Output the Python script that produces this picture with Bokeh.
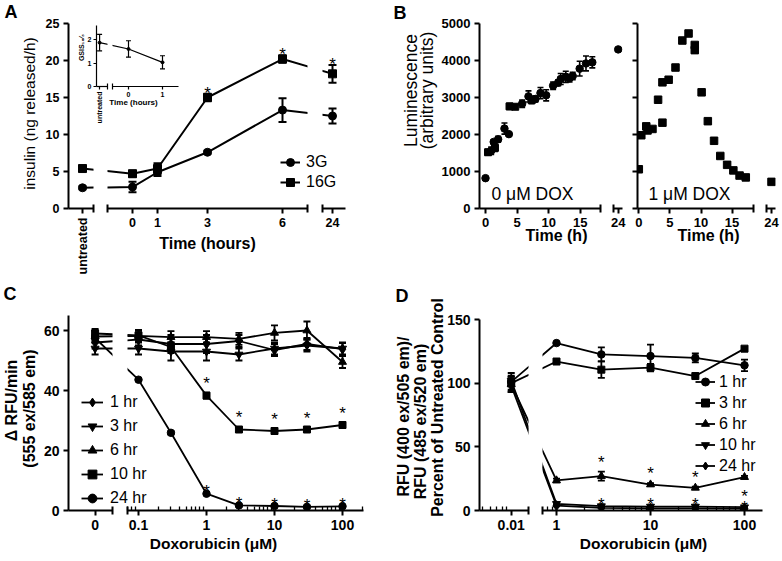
import math
from bokeh.plotting import figure
from bokeh.models import Range1d, FixedTicker, Label, Legend, LegendItem, GridBox
from bokeh.embed import file_html
from bokeh.resources import INLINE
from bokeh.core.properties import value

# ======================= DATA =======================
# Panel A: insulin release (ng released/h), mean +/- SEM
A_TIME = ["untreated", 0, 1, 3, 6, 24]
A_3G = [2.8, 2.9, 4.9, 7.6, 13.3, 12.5]
A_3G_ERR = [0.2, 0.7, 0.5, 0.2, 1.6, 1.0]
A_16G = [5.4, 4.7, 5.4, 15.0, 20.2, 18.2]
A_16G_ERR = [0.3, 0.4, 0.7, 0.5, 0.5, 1.2]
A_16G_SIG = [3, 6, 24]
A_YTICKS = [0, 5, 10, 15, 20, 25]

# Panel A inset: GSIS 16/3
AI_TIME = ["untreated", 0, 1]
AI_GSIS = [1.87, 1.60, 1.03]
AI_ERR = [0.35, 0.35, 0.28]
AI_YTICKS = [0, 1, 2]

# Panel B: luminescence (arbitrary units)
B0_CIRC_H = [0, 0.9, 1.3, 2.0, 3.0, 3.7, 5.8, 6.8, 7.9, 8.7, 9.6, 10.7, 11.5, 11.9,
             12.7, 13.3, 13.8, 14.9, 15.9, 16.9, 24]
B0_CIRC_LUM = [820, 1560, 1800, 1870, 2160, 2010, 2830, 3030, 2960, 3120, 3060, 3320, 3400,
               3500, 3560, 3520, 3580, 3780, 3920, 3950, 4300]
B0_CIRC_ERR = [0, 100, 60, 80, 150, 0, 100, 150, 80, 150, 150, 100, 80, 150,
               150, 100, 100, 200, 200, 150, 0]
B0_SQ_H = [0.4, 1.5, 3.8, 4.7, 7.3]
B0_SQ_LUM = [1520, 1640, 2760, 2750, 2930]
B0_SQ_ERR = [80, 100, 80, 60, 100]
B1_H = [0, 0.4, 1.2, 1.4, 2.2, 3.1, 3.8, 3.8, 4.8, 5.9, 7.0, 8.0, 9.0, 9.0, 10.1, 11.1,
        12.1, 13.1, 14.2, 15.2, 16.2, 17.2, 24]
B1_LUM = [1060, 1980, 2220, 2110, 2150, 2940, 2320, 3410, 3480, 3810, 4540, 4730, 4420,
          4280, 3140, 2360, 1830, 1420, 1180, 1030, 890, 840, 720]
B_XTICKS = [0, 5, 10, 15, 24]
B_YTICKS = [0, 1000, 2000, 3000, 4000, 5000]

# Panel C: delta RFU/min vs doxorubicin (uM)
C_CONC = [0, 0.1, 0.3, 1, 3, 10, 30, 100]
C_NAMES = ["1 hr", "3 hr", "6 hr", "10 hr", "24 hr"]
C_1HR = [56, 57, 55.5, 55.5, 56.5, 53.5, 55.5, 53.8]
C_1HR_ERR = [2, 2, 3, 3, 2, 2, 2, 2]
C_3HR = [54, 54, 53, 53, 52, 54, 55, 54]
C_3HR_ERR = [2, 2, 3, 3, 2, 2, 2, 2]
C_6HR = [58, 58.2, 57.8, 57.8, 57.2, 59.2, 60, 49.5]
C_6HR_ERR = [2, 2, 2, 2, 2, 2.5, 3, 2]
C_10HR = [59, 58.4, 54.5, 38.3, 27, 26.5, 27, 28.5]
C_10HR_ERR = [1.5, 1.5, 1.5, 1, 0.7, 0.6, 0.6, 0.7]
C_24HR = [57.5, 43.6, 25.9, 5.6, 1.7, 1.5, 1.2, 1.4]
C_24HR_ERR = [1, 0.5, 0.5, 0.4, 0.3, 0.3, 0.3, 0.3]
C_SIG_10HR = [1, 3, 10, 30, 100]
C_SIG_24HR = [1, 3, 10, 30, 100]
C_XTICKS = [0, 0.1, 1, 10, 100]
C_YTICKS = [0, 20, 40, 60]

# Panel D: RFU ratio, percent of untreated control
D_CONC = [0.01, 1, 3, 10, 30, 100]
D_NAMES = ["1 hr", "3 hr", "6 hr", "10 hr", "24 hr"]
D_1HR = [101, 131.5, 122.6, 121.3, 119.8, 114]
D_1HR_ERR = [7, 1, 5.5, 9, 3.5, 4.5]
D_3HR = [100, 117, 110.6, 112.2, 105.6, 127.1]
D_3HR_ERR = [5, 1, 6.5, 3, 1, 1]
D_6HR = [99, 23.6, 27, 20.4, 17.8, 26.2]
D_6HR_ERR = [6, 1.5, 3.5, 1, 1, 1]
D_10HR = [102, 5.2, 3.4, 3.1, 3.1, 2.6]
D_10HR_ERR = [4, 1, 1, 1, 1, 1]
D_24HR = [98, 3.8, 2.0, 1.6, 1.6, 1.5]
D_24HR_ERR = [5, 0.5, 0.4, 0.3, 0.3, 0.3]
D_SIG_6HR = [3, 10, 30]
D_SIG_10HR = [3, 10, 30, 100]
D_SIG_24HR = [100]
D_XTICKS = [0.01, 1, 10, 100]
D_YTICKS = [0, 50, 100, 150]

# ======================= LAYOUT / STYLE =======================
W, H, OFF = 780, 559, 0
FONT = "Liberation Sans"
TOP_Y0, TOP_Y1 = 23, 208
C_Y0, D_Y0, BOT_Y1 = 315, 319, 510
NAN = float("nan")

# broken-axis placement of the split-off categories
A_BREAK = {"untreated": -2.0, 24: 8.0}
AI_BREAK = {"untreated": -0.85}
C_BREAK = {0: 0.023}
D_BREAK = {0.01: 0.33}


def bpos(brk, v):
    return brk.get(v, v)


def lin_range(px0, px1, zero_px, ppu):
    return ((px0 - zero_px) / ppu, (px1 - zero_px) / ppu)


def log_range(px0, px1, one_px, k):
    return (10 ** ((px0 - one_px) / k), 10 ** ((px1 - one_px) / k))


def jskey(v):
    s = repr(float(v))
    return s[:-2] if s.endswith(".0") else s


def clean(p):
    p.outline_line_color = None
    p.background_fill_alpha = 0
    p.border_fill_alpha = 0
    p.xgrid.visible = False
    p.ygrid.visible = False


def seg_fig(px0, px1, py0, py1, xr, yr, log=False, yaxis=False):
    p = figure(width=W, height=H, output_backend="svg", toolbar_location=None,
               x_range=Range1d(*xr), y_range=Range1d(*yr),
               x_axis_type="log" if log else "linear",
               y_axis_location="left" if yaxis else None,
               frame_align=False,
               min_border_left=int(px0 - OFF), min_border_right=int(W - (px1 - OFF)),
               min_border_top=int(py0 - OFF), min_border_bottom=int(H - (py1 - OFF)))
    clean(p)
    return p


def set_axis(ax, ticks, labels, size, minor=(), lw=2.0, tick_out=5, standoff=4):
    ax.ticker = FixedTicker(ticks=[float(t) for t in ticks],
                            minor_ticks=[float(m) for m in minor])
    ax.axis_line_width = lw
    ax.axis_line_color = "black"
    ax.major_tick_line_width = lw
    ax.major_tick_line_color = "black"
    ax.major_tick_out = tick_out
    ax.major_tick_in = 0
    ax.minor_tick_line_width = 1.3
    ax.minor_tick_line_color = "black"
    ax.minor_tick_in = 4
    ax.minor_tick_out = 0
    ax.major_label_text_font = FONT
    ax.major_label_text_font_style = "bold"
    ax.major_label_text_font_size = f"{size}px"
    ax.major_label_text_color = "black"
    ax.major_label_standoff = standoff
    ov = {}
    for t, l in zip(ticks, labels):
        ov[float(t)] = l
        ov[jskey(t)] = l
    ax.major_label_overrides = ov


def series(p, xs, ys, errs, marker, size, lw=2.0, cap=7, line=True):
    line_r = p.line(xs, ys, line_color="black", line_width=lw) if line else None
    if errs is not None:
        ex = [x for x, e in zip(xs, errs) if e > 0]
        lo = [y - e for y, e in zip(ys, errs) if e > 0]
        hi = [y + e for y, e in zip(ys, errs) if e > 0]
        p.segment(x0=ex, y0=lo, x1=ex, y1=hi, line_color="black", line_width=lw)
        p.scatter(x=ex + ex, y=lo + hi, marker="dash", size=cap,
                  line_color="black", line_width=lw)
    mk = p.scatter(x=xs, y=ys, marker=marker, size=size, fill_color="black",
                   line_color="black", line_width=1)
    return line_r, mk


def stars(p, pts, gap=10.5, fs=17):
    seen = {}
    xs, ys, offs = [], [], []
    for x, y in sorted(pts, key=lambda t: (t[0], t[1])):
        k = seen.get(x, 0)
        seen[x] = k + 1
        xs.append(x)
        ys.append(y)
        offs.append(-(gap - 0.585 * fs) - 9 * k)
    p.text(x=xs, y=ys, text=["*"] * len(xs), y_offset=offs, text_align="center",
           text_baseline="alphabetic", text_font=value(FONT),
           text_font_size=f"{fs}px", text_color="black")


def in_range(v, r):
    return min(r) <= v <= max(r)


figs = []

# ======================= PANEL A =======================
A_ZERO, A_PPU = 132, 25
a_x = [bpos(A_BREAK, t) for t in A_TIME]
a_sig = [(bpos(A_BREAK, t), A_16G[A_TIME.index(t)] + A_16G_ERR[A_TIME.index(t)])
         for t in A_16G_SIG]
for i, (x0, x1) in enumerate([(68, 93), (107, 307), (322, 345)]):
    xr = lin_range(x0, x1, A_ZERO, A_PPU)
    p = seg_fig(x0, x1, TOP_Y0, TOP_Y1, xr, (0, 25), yaxis=(i == 0))
    series(p, a_x, A_3G, A_3G_ERR, "circle", 8, lw=2, cap=8)
    series(p, a_x, A_16G, A_16G_ERR, "square", 8, lw=2, cap=8)
    stars(p, a_sig)
    tk = [(x, str(t)) for x, t in zip(a_x, A_TIME) if in_range(x, xr)]
    set_axis(p.xaxis[0], [t[0] for t in tk], [t[1] for t in tk], 12.5)
    if i == 0:
        p.xaxis[0].major_label_orientation = math.pi / 2
        set_axis(p.yaxis[0], A_YTICKS, [str(v) for v in A_YTICKS], 12.5)
    figs.append(p)

# inset
AI_ZERO, AI_PPU = 128, 34
ai_x = [bpos(AI_BREAK, t) for t in AI_TIME]
for i, (x0, x1) in enumerate([(96, 107), (112, 178)]):
    xr = lin_range(x0, x1, AI_ZERO, AI_PPU)
    p = seg_fig(x0, x1, 25, 86, xr, (0, 2.6), yaxis=(i == 0))
    series(p, ai_x, AI_GSIS, AI_ERR, "circle", 3, lw=1.2, cap=5)
    tk = [(x, str(t)) for x, t in zip(ai_x, AI_TIME) if in_range(x, xr)]
    set_axis(p.xaxis[0], [t[0] for t in tk], [t[1] for t in tk], 7,
             lw=1.2, tick_out=3, standoff=2)
    if i == 0:
        p.xaxis[0].major_label_orientation = math.pi / 2
        set_axis(p.yaxis[0], AI_YTICKS, [str(v) for v in AI_YTICKS], 7,
                 lw=1.2, tick_out=3, standoff=2)
    figs.append(p)

# ======================= PANEL B =======================
B_SIDES = [
    # (frames, zero px per frame, px per hour, y labels shown)
    ([(479, 600), (613, 622)], [485.0, 617.7 - 24 * 6.32], 6.32, True),
    ([(637, 753), (766, 775)], [638.3, 771.0 - 24 * 6.22], 6.22, False),
]
for side, (frames, zeros, ppu, ylab) in enumerate(B_SIDES):
    for i, ((x0, x1), z) in enumerate(zip(frames, zeros)):
        xr = lin_range(x0, x1, z, ppu)
        p = seg_fig(x0, x1, TOP_Y0, TOP_Y1, xr, (0, 5000), yaxis=(i == 0))
        if side == 0:
            series(p, B0_CIRC_H, B0_CIRC_LUM, B0_CIRC_ERR, "circle", 7.5, lw=1.6, cap=6, line=False)
            series(p, B0_SQ_H, B0_SQ_LUM, B0_SQ_ERR, "square", 7, lw=1.6, cap=6, line=False)
        else:
            series(p, B1_H, B1_LUM, None, "square", 7.5, line=False)
        tk = [t for t in B_XTICKS if in_range(t, xr)]
        set_axis(p.xaxis[0], tk, [str(t) for t in tk], 13)
        if i == 0:
            set_axis(p.yaxis[0], B_YTICKS,
                     [str(v) if ylab else "" for v in B_YTICKS], 13)
        figs.append(p)

# ======================= PANEL C =======================
C_ONE, C_K = 206, 68
c_x = [bpos(C_BREAK, c) for c in C_CONC]
C_SER = [(C_1HR, C_1HR_ERR, "diamond", 10), (C_3HR, C_3HR_ERR, "inverted_triangle", 8),
         (C_6HR, C_6HR_ERR, "triangle", 8), (C_10HR, C_10HR_ERR, "square", 7),
         (C_24HR, C_24HR_ERR, "circle", 7.5)]
c_sig = [(bpos(C_BREAK, c), C_10HR[C_CONC.index(c)] + C_10HR_ERR[C_CONC.index(c)]) for c in C_SIG_10HR]
c_sig += [(bpos(C_BREAK, c), C_24HR[C_CONC.index(c)] + C_24HR_ERR[C_CONC.index(c)]) for c in C_SIG_24HR]
for i, (x0, x1) in enumerate([(68, 112), (127, 363)]):
    xr = log_range(x0, x1, C_ONE, C_K)
    p = seg_fig(x0, x1, C_Y0, BOT_Y1, xr, (0, 65), log=True, yaxis=(i == 0))
    for vals, errs, mk, sz in C_SER:
        series(p, c_x, vals, errs, mk, sz, lw=1.8, cap=7)
    stars(p, c_sig)
    tk = [(bpos(C_BREAK, c), str(c)) for c in C_XTICKS if in_range(bpos(C_BREAK, c), xr)]
    minor = []
    if i == 1:
        minor = [m * 10 ** d for d in range(-3, 4) for m in range(2, 10)
                 if in_range(m * 10 ** d, xr)]
    set_axis(p.xaxis[0], [t[0] for t in tk], [t[1] for t in tk], 14, minor=minor)
    if i == 0:
        set_axis(p.yaxis[0], C_YTICKS, [str(v) for v in C_YTICKS], 14)
    figs.append(p)

# ======================= PANEL D =======================
D_ONE, D_K = 556, 94
d_x = [bpos(D_BREAK, c) for c in D_CONC]
D_SCALE = D_BREAK[0.01] / 0.01
D_SER = [(D_1HR, D_1HR_ERR, "circle", 7.5), (D_3HR, D_3HR_ERR, "square", 7),
         (D_6HR, D_6HR_ERR, "triangle", 8), (D_10HR, D_10HR_ERR, "inverted_triangle", 8),
         (D_24HR, D_24HR_ERR, "diamond", 10)]
d_sig = [(c, D_6HR[D_CONC.index(c)] + D_6HR_ERR[D_CONC.index(c)]) for c in D_SIG_6HR]
d_sig += [(c, D_10HR[D_CONC.index(c)] + D_10HR_ERR[D_CONC.index(c)]) for c in D_SIG_10HR]
d_sig += [(c, D_24HR[D_CONC.index(c)] + D_24HR_ERR[D_CONC.index(c)]) for c in D_SIG_24HR]
for i, (x0, x1) in enumerate([(479, 528), (542, 762)]):
    xr = log_range(x0, x1, D_ONE, D_K)
    p = seg_fig(x0, x1, D_Y0, BOT_Y1, xr, (0, 150), log=True, yaxis=(i == 0))
    for vals, errs, mk, sz in D_SER:
        series(p, d_x, vals, errs, mk, sz, lw=1.8, cap=7)
    stars(p, d_sig)
    tk = [(bpos(D_BREAK, c), str(c)) for c in D_XTICKS if in_range(bpos(D_BREAK, c), xr)]
    scale = D_SCALE if i == 0 else 1.0
    minor = [scale * m * 10 ** d for d in range(-4, 4) for m in range(2, 10)
             if in_range(scale * m * 10 ** d, xr)]
    set_axis(p.xaxis[0], [t[0] for t in tk], [t[1] for t in tk], 14, minor=minor)
    if i == 0:
        set_axis(p.yaxis[0], D_YTICKS, [str(v) for v in D_YTICKS], 14)
    figs.append(p)


# ======================= AXIS BREAK CAPS =======================
def cap_fig(axis_y, caps, half=4, lw=2.0):
    p = figure(width=W, height=H, output_backend="svg", toolbar_location=None,
               x_range=Range1d(OFF, OFF + W), y_range=Range1d(0, 1),
               y_axis_location=None, frame_align=False,
               min_border_left=0, min_border_right=0, min_border_top=0,
               min_border_bottom=int(H - (axis_y - OFF)))
    clean(p)
    ax = p.xaxis[0]
    ax.ticker = FixedTicker(ticks=[], minor_ticks=[float(c) for c in caps])
    ax.axis_line_color = None
    ax.major_tick_line_color = None
    ax.minor_tick_in = half
    ax.minor_tick_out = half
    ax.minor_tick_line_width = lw
    ax.minor_tick_line_color = "black"
    return p


figs.append(cap_fig(TOP_Y1, [93, 107, 307, 322, 600, 613, 753, 766]))
figs.append(cap_fig(BOT_Y1, [112, 127, 528, 542]))
figs.append(cap_fig(86, [107, 112], half=3, lw=1.2))

# ======================= TEXT + LEGENDS =======================
T = figure(width=W, height=H, output_backend="svg", toolbar_location=None,
           x_range=Range1d(OFF, OFF + W), y_range=Range1d(OFF + H, OFF),
           x_axis_location=None, y_axis_location=None, frame_align=False,
           min_border_left=0, min_border_right=0, min_border_top=0, min_border_bottom=0)
clean(T)


def txt(x, y, s, size, bold=False, angle=0.0, align="center"):
    T.add_layout(Label(x=x, y=y, text=s, angle=angle, text_align=align,
                       text_baseline="middle", text_font=FONT,
                       text_font_size=f"{size}px",
                       text_font_style="bold" if bold else "normal",
                       text_color="black"))


def legend(entries, left, bottom, gw, gh, standoff, lw=1.8):
    # legend key proxies (no visible data; they only carry the style)
    items = []
    for name, mk, sz in entries:
        lr = T.line(x=[NAN], y=[NAN], line_color="black", line_width=lw)
        mr = T.scatter(x=[NAN], y=[NAN], marker=mk, size=sz,
                       fill_color="black", line_color="black")
        items.append(LegendItem(label=name, renderers=[lr, mr]))
    T.add_layout(Legend(items=items, location=(left - OFF, H - (bottom - OFF)),
                        orientation="vertical", glyph_width=gw, glyph_height=gh,
                        label_standoff=standoff, spacing=0, padding=0, margin=0,
                        label_height=10, label_text_font=FONT,
                        label_text_font_size="16px", label_text_color="black",
                        border_line_color=None, background_fill_alpha=0))


legend([("3G", "circle", 8), ("16G", "square", 8)], 280, 192, 20, 20, 6, lw=2)
legend([(n, s[2], s[3]) for n, s in zip(C_NAMES, C_SER)], 81, 510, 22, 24, 7)
legend([(n, s[2], s[3]) for n, s in zip(D_NAMES, D_SER)], 695, 476, 20, 21, 4)

V = math.pi / 2
# panel letters
txt(4, 11, "A", 18, True, align="left")
txt(393, 12, "B", 18, True, align="left")
txt(3, 293, "C", 18, True, align="left")
txt(395, 295, "D", 18, True, align="left")
# A
txt(29, 113, "insulin (ng released/h)", 15.5, angle=V)
txt(207, 243, "Time (hours)", 16, True)
txt(133, 101.5, "Time (hours)", 8, True)
txt(81, 47, "GSIS\u2081\u2086\u2044\u2083", 7, True, angle=V)
# B
txt(410, 90, "Luminescence", 17.5, angle=V)
txt(426, 90, "(arbitrary units)", 17.5, angle=V)
txt(556, 235, "Time (h)", 16, True)
txt(708, 235, "Time (h)", 16, True)
txt(491, 193, "0 \u03bcM DOX", 17.5, align="left")
txt(648, 193, "1 \u03bcM DOX", 17.5, align="left")
# C
txt(11, 400, "\u0394 RFU/min", 16, True, angle=V)
txt(28.5, 408, "(555 ex/585 em)", 16, True, angle=V)
txt(213, 543, "Doxorubicin (\u03bcM)", 15.5, True)
# D
txt(403.3, 416, "RFU (400 ex/505 em)/", 16, True, angle=V)
txt(420, 421, "RFU (485 ex/520 em)", 16, True, angle=V)
txt(436.7, 407, "Percent of Untreated Control", 16, True, angle=V)
txt(643, 543, "Doxorubicin (\u03bcM)", 15.5, True)
figs.append(T)

layout = GridBox(children=[(f, 0, 0) for f in figs])
open("out.html", "w").write(file_html(layout, INLINE))
